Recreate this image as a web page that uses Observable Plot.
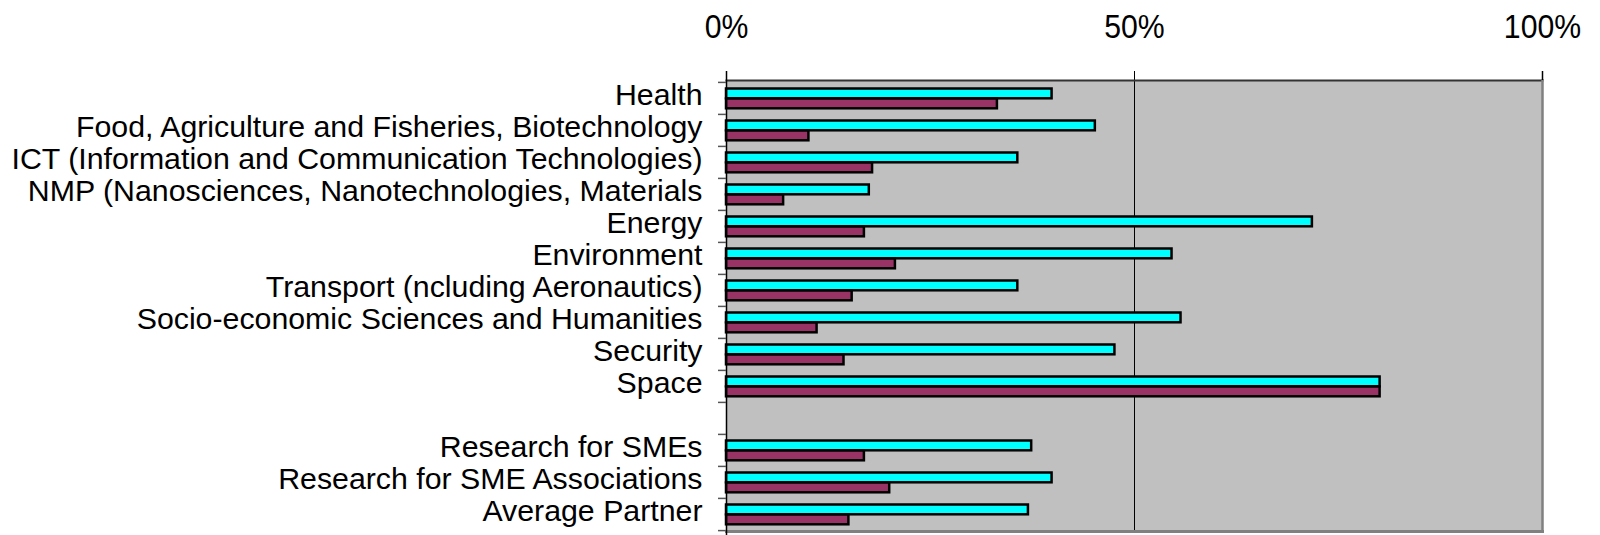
<!DOCTYPE html>
<html>
<head>
<meta charset="utf-8">
<script src="https://cdn.jsdelivr.net/npm/d3@7"></script>
<script src="https://cdn.jsdelivr.net/npm/@observablehq/plot@0.6"></script>
<style>
  html, body { margin: 0; padding: 0; background: #fff; }
  #chart { width: 1600px; height: 535px; }
</style>
</head>
<body>
<div id="chart"></div>
<script>
const categories = [
  "Health",
  "Food, Agriculture and Fisheries, Biotechnology",
  "ICT (Information and Communication Technologies)",
  "NMP (Nanosciences, Nanotechnologies, Materials",
  "Energy",
  "Environment",
  "Transport (ncluding Aeronautics)",
  "Socio-economic Sciences and Humanities",
  "Security",
  "Space",
  " ",
  "Research for SMEs",
  "Research for SME Associations",
  "Average Partner"
];
const seriesCyan   = [0.399, 0.452, 0.357, 0.175, 0.718, 0.546, 0.357, 0.557, 0.476, 0.801, null, 0.374, 0.399, 0.370];
const seriesMaroon = [0.332, 0.101, 0.179, 0.070, 0.169, 0.207, 0.154, 0.111, 0.144, 0.801, null, 0.169, 0.200, 0.150];
const xTicks = [0, 0.5, 1];
const xTickLabels = ["0%", "50%", "100%"];

const rows = categories.map((c, i) => ({cat: c, a: seriesCyan[i], b: seriesMaroon[i]})).filter(d => d.a != null);
const FONT = "'Liberation Sans', Arial, sans-serif";

const chart = Plot.plot({
  width: 1600,
  height: 535,
  marginLeft: 726,
  marginRight: 58,
  marginTop: 80,
  marginBottom: 4,
  style: {fontFamily: FONT, fontSize: "30px", color: "#000", background: "#fff"},
  x: {domain: [0, 1], axis: null},
  y: {domain: categories, padding: 0, axis: null},
  marks: [
    Plot.frame({fill: "#c0c0c0"}),
    Plot.ruleX([0.5], {stroke: "#000", strokeWidth: 1, insetTop: -9}),
    Plot.barX(rows, {y: "cat", x: "a", fill: "#00ffff", stroke: "#000", strokeWidth: 2.5, insetTop: 6.5, insetBottom: 15.7}),
    Plot.barX(rows, {y: "cat", x: "b", fill: "#993366", stroke: "#000", strokeWidth: 2.5, insetTop: 16.5, insetBottom: 5.7}),
    Plot.frame({anchor: "top", stroke: "#333", strokeWidth: 2}),
    Plot.frame({anchor: "right", stroke: "#808080", strokeWidth: 2.5}),
    Plot.frame({anchor: "bottom", stroke: "#808080", strokeWidth: 3}),
    Plot.ruleX([0], {stroke: "#000", strokeWidth: 1.5, insetTop: -9, insetBottom: -4}),
    Plot.ruleX([1], {stroke: "#000", strokeWidth: 1.5, insetTop: -9, insetBottom: 451}),
    Plot.axisX({anchor: "top", ticks: xTicks, tickFormat: (d, i) => xTickLabels[i], tickSize: 0, tickPadding: 43, fontSize: 32.5, label: null}),
    Plot.axisY({anchor: "left", tickSize: 0, tickPadding: 24, fontSize: 30.3, dy: -2.8, tickFormat: d => d, label: null}),
    Plot.axisY({anchor: "left", tickSize: 8, text: null, dy: -16.1, stroke: "#555", strokeWidth: 1.5, label: null}),
    Plot.axisY({anchor: "left", ticks: [categories[categories.length - 1]], tickSize: 8, text: null, dy: 16.1, stroke: "#555", strokeWidth: 1.5, label: null})
  ]
});
document.getElementById("chart").appendChild(chart);

// Slightly condense the percentage labels (the reference face is narrower)
d3.select(chart).selectAll('g[aria-label="x-axis tick label"] text').each(function () {
  const L = this.getComputedTextLength();
  if (L > 0) {
    this.setAttribute("textLength", (L * 0.93).toFixed(2));
    this.setAttribute("lengthAdjust", "spacingAndGlyphs");
  }
});
</script>
</body>
</html>
